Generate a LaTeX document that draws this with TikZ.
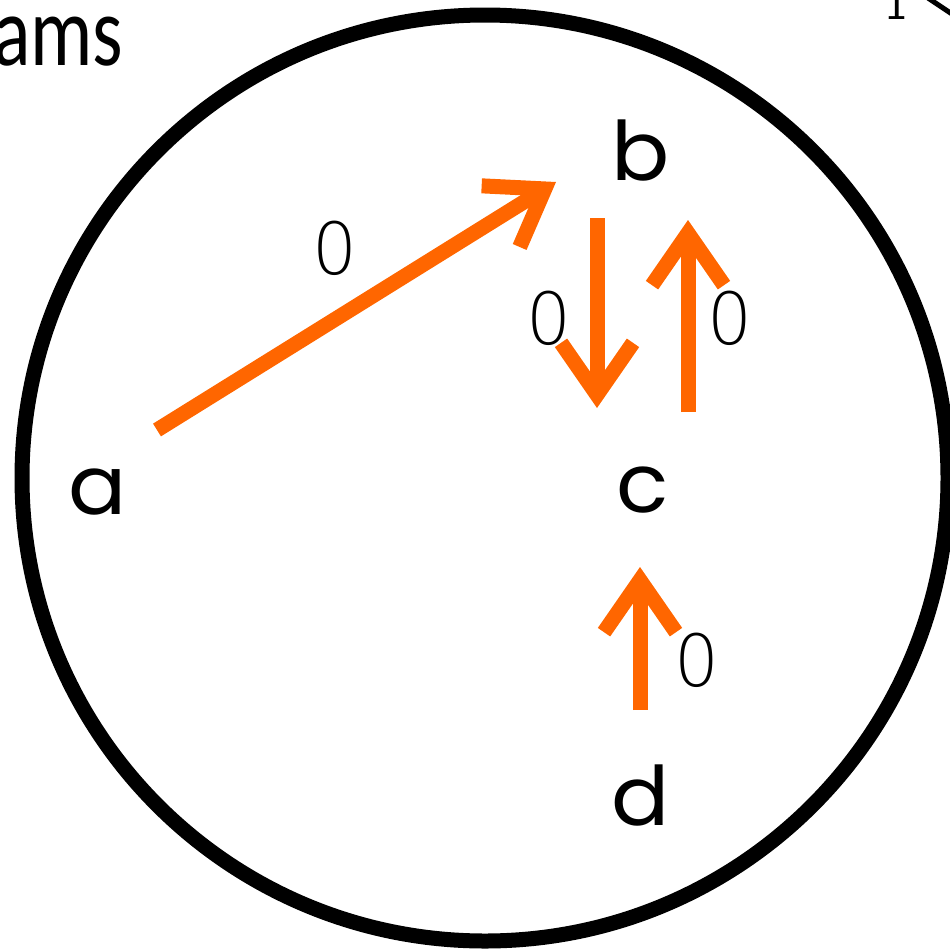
\documentclass[tikz,border=0pt]{standalone}
\usepackage{fontspec}
\setmainfont{Carlito}
\newfontfamily\geofont{Poppins}
\newfontfamily\thinfont{DejaVu Sans ExtraLight}
\usetikzlibrary{arrows.meta}
\definecolor{arrorange}{HTML}{FF6600}

\begin{document}
\begin{tikzpicture}[x=1pt, y=-1pt,
  vtx/.style={font=\geofont\fontsize{82}{82}\selectfont, inner sep=0pt,
              anchor=base, xscale=1.05, transform shape},
  wt/.style={font=\thinfont\fontsize{72}{72}\selectfont, inner sep=0pt,
             xscale=0.98, transform shape},
  arr/.style={arrorange, line width=15pt,
              -{Straight Barb[length=52pt, width=72pt, line width=15pt]}},
]
  \useasboundingbox (0,0) rectangle (950,951);

  % slide title and neighbour fragments
  \node[font=\fontsize{100}{100}\selectfont, inner sep=0pt, anchor=base west,
        xscale=0.78, transform shape] (title) at (-7,65) {ams};
  \node[font=\fontsize{46}{46}\selectfont, inner sep=0pt, anchor=base] (one) at (895,19) {1};
  \draw[line width=5pt] (928,-2) -- (952,14);

  % the circle
  \draw[line width=15pt] (485,478) circle (463);

  % vertices
  \node[vtx] (a) at (98,514) {a};
  \node[vtx] (b) at (641,180) {b};
  \node[vtx] (c) at (643,512) {c};
  \node[vtx] (d) at (641,825) {d};

  % arrow ends
  \coordinate (ab-s) at (157,430);
  \coordinate (ab-t) at (556,182);
  \coordinate (bc-s) at (597,218);
  \coordinate (bc-t) at (597,408);
  \coordinate (cb-s) at (688,412);
  \coordinate (cb-t) at (688,220);
  \coordinate (dc-s) at (640,710);
  \coordinate (dc-t) at (640,567);

  \draw[arr] (ab-s) -- (ab-t);
  \draw[arr] (bc-s) -- (bc-t);
  \draw[arr] (cb-s) -- (cb-t);
  \draw[arr] (dc-s) -- (dc-t);

  % weights
  \node[wt] (w-ab) at (335,248) {0};
  \node[wt] (w-bc) at (549,318) {0};
  \node[wt] (w-cb) at (730,318) {0};
  \node[wt] (w-dc) at (697,660) {0};
\end{tikzpicture}
\end{document}
